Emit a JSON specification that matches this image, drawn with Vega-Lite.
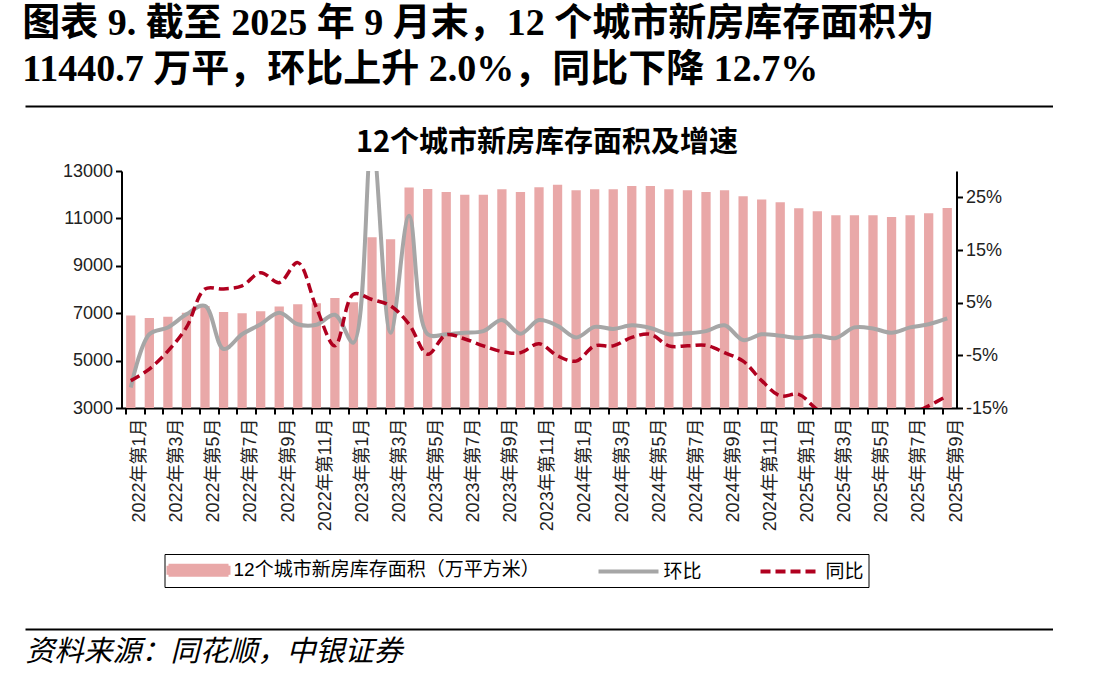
{
  "$schema": "https://vega.github.io/schema/vega-lite/v6.json",
  "padding": {"left": 22, "top": 4, "right": 0, "bottom": 12},
  "background": "white",
  "datasets": {
    "inventory": [
      {"month": "2022年第1月", "inventory": 6900, "mom": -11.1, "yoy": -9.8},
      {"month": "2022年第2月", "inventory": 6800, "mom": -1.0, "yoy": -7.6},
      {"month": "2022年第3月", "inventory": 6850, "mom": 0.3, "yoy": -4.2},
      {"month": "2022年第4月", "inventory": 7020, "mom": 2.8, "yoy": 0.3},
      {"month": "2022年第5月", "inventory": 7300, "mom": 4.4, "yoy": 7.6},
      {"month": "2022年第6月", "inventory": 7050, "mom": -3.8, "yoy": 7.6},
      {"month": "2022年第7月", "inventory": 7000, "mom": -1.0, "yoy": 8.2},
      {"month": "2022年第8月", "inventory": 7080, "mom": 0.9, "yoy": 10.7},
      {"month": "2022年第9月", "inventory": 7280, "mom": 3.1, "yoy": 8.8},
      {"month": "2022年第10月", "inventory": 7380, "mom": 0.9, "yoy": 12.6},
      {"month": "2022年第11月", "inventory": 7420, "mom": 0.8, "yoy": 4.1},
      {"month": "2022年第12月", "inventory": 7640, "mom": 2.7, "yoy": -3.2},
      {"month": "2023年第1月", "inventory": 7460, "mom": -2.6, "yoy": 6.6},
      {"month": "2023年第2月", "inventory": 10200, "mom": 36.0, "yoy": 5.6},
      {"month": "2023年第3月", "inventory": 10120, "mom": -0.7, "yoy": 4.4},
      {"month": "2023年第4月", "inventory": 12300, "mom": 21.5, "yoy": 0.9},
      {"month": "2023年第5月", "inventory": 12240, "mom": -1.0, "yoy": -4.8},
      {"month": "2023年第6月", "inventory": 12110, "mom": -1.0, "yoy": -1.1},
      {"month": "2023年第7月", "inventory": 12000, "mom": -0.7, "yoy": -1.9},
      {"month": "2023年第8月", "inventory": 12000, "mom": -0.4, "yoy": -3.2},
      {"month": "2023年第9月", "inventory": 12230, "mom": 1.7, "yoy": -4.3},
      {"month": "2023年第10月", "inventory": 12110, "mom": -0.9, "yoy": -4.5},
      {"month": "2023年第11月", "inventory": 12310, "mom": 1.7, "yoy": -2.8},
      {"month": "2023年第12月", "inventory": 12420, "mom": 0.6, "yoy": -5.1},
      {"month": "2024年第1月", "inventory": 12185, "mom": -1.6, "yoy": -6.1},
      {"month": "2024年第2月", "inventory": 12230, "mom": 0.4, "yoy": -3.2},
      {"month": "2024年第3月", "inventory": 12230, "mom": 0.0, "yoy": -3.2},
      {"month": "2024年第4月", "inventory": 12370, "mom": 0.7, "yoy": -1.6},
      {"month": "2024年第5月", "inventory": 12370, "mom": 0.2, "yoy": -1.0},
      {"month": "2024年第6月", "inventory": 12230, "mom": -1.0, "yoy": -3.2},
      {"month": "2024年第7月", "inventory": 12185, "mom": -0.8, "yoy": -3.2},
      {"month": "2024年第8月", "inventory": 12110, "mom": -0.4, "yoy": -3.1},
      {"month": "2024年第9月", "inventory": 12185, "mom": 0.7, "yoy": -4.5},
      {"month": "2024年第10月", "inventory": 11930, "mom": -2.1, "yoy": -6.1},
      {"month": "2024年第11月", "inventory": 11800, "mom": -1.0, "yoy": -9.8},
      {"month": "2024年第12月", "inventory": 11680, "mom": -1.3, "yoy": -12.7},
      {"month": "2025年第1月", "inventory": 11425, "mom": -1.7, "yoy": -12.4},
      {"month": "2025年第2月", "inventory": 11300, "mom": -1.3, "yoy": -15.3},
      {"month": "2025年第3月", "inventory": 11130, "mom": -1.7, "yoy": -17.0},
      {"month": "2025年第4月", "inventory": 11130, "mom": 0.3, "yoy": -18.0},
      {"month": "2025年第5月", "inventory": 11130, "mom": 0.1, "yoy": -18.5},
      {"month": "2025年第6月", "inventory": 11060, "mom": -0.7, "yoy": -18.0},
      {"month": "2025年第7月", "inventory": 11130, "mom": 0.3, "yoy": -16.3},
      {"month": "2025年第8月", "inventory": 11215, "mom": 0.9, "yoy": -14.6},
      {"month": "2025年第9月", "inventory": 11440.7, "mom": 2.0, "yoy": -12.7}
    ]
  },
  "spacing": 64,
  "center": true,
  "bounds": "flush",
  "resolve": {"scale": {"color": "independent"}, "legend": {"color": "independent"}},
  "vconcat": [
    {
      "width": 1028,
      "height": 1,
      "data": {"values": [{}]},
      "title": {
        "text": ["图表 9. 截至 2025 年 9 月末，12 个城市新房库存面积为", "11440.7 万平，环比上升 2.0%，同比下降 12.7%"],
        "anchor": "start",
        "font": "Liberation Serif, Noto Sans CJK SC",
        "fontSize": 38,
        "fontWeight": "bold",
        "color": "black",
        "lineHeight": 46,
        "offset": 15
      },
      "mark": {"type": "point", "opacity": 0},
      "encoding": {
        "x": {
          "datum": 0,
          "type": "quantitative",
          "scale": {"domain": [0, 1]},
          "axis": {"orient": "top", "domain": true, "domainColor": "black", "domainWidth": 2, "ticks": false, "labels": false, "grid": false, "title": null}
        }
      }
    },
    {
      "width": 835,
      "height": 237,
      "data": {"name": "inventory"},
      "title": {
        "text": "12个城市新房库存面积及增速",
        "anchor": "middle",
        "font": "Noto Sans CJK SC",
        "fontSize": 29,
        "fontWeight": "bold",
        "color": "black",
        "offset": 4,
        "dx": 8
      },
      "resolve": {"scale": {"y": "independent"}},
      "layer": [
        {
          "mark": {"type": "bar", "clip": true},
          "encoding": {
            "x": {
              "field": "month",
              "type": "ordinal",
              "sort": null,
              "scale": {"paddingInner": 0.5, "paddingOuter": 0.25},
              "axis": {
                "orient": "bottom",
                "title": null,
                "bandPosition": 0,
                "labelOffset": 9.28,
                "labelAngle": 270,
                "labelFontSize": 18,
                "labelColor": "#222222",
                "labelExpr": "test(regexp('第(2|4|6|8|10|12)月$'), datum.value) ? '' : datum.value",
                "labelOverlap": false,
                "labelPadding": 4,
                "tickSize": 6,
                "tickWidth": 2,
                "tickColor": "black",
                "domainColor": "black",
                "domainWidth": 2,
                "grid": false
              }
            },
            "y": {
              "field": "inventory",
              "type": "quantitative",
              "scale": {"domain": [3000, 13000], "nice": false, "zero": false},
              "axis": {
                "orient": "left",
                "title": null,
                "values": [3000, 5000, 7000, 9000, 11000, 13000],
                "format": "d",
                "labelFontSize": 18,
                "labelColor": "#222222",
                "labelPadding": 3,
                "tickSize": 6,
                "tickWidth": 2,
                "tickColor": "black",
                "domainColor": "black",
                "domainWidth": 2,
                "grid": false
              }
            },
            "color": {
              "datum": "12个城市新房库存面积（万平方米）",
              "scale": {
                "domain": ["12个城市新房库存面积（万平方米）", "环比", "同比"],
                "range": ["#E9A8A8", "#A6A6A6", "#B0001F"]
              },
              "legend": {
                "orient": "none",
                "legendX": 43,
                "legendY": 383,
                "direction": "horizontal",
                "title": null,
                "symbolType": {"expr": "datum.value === '环比' || datum.value === '同比' ? 'M-3,0H3' : 'M-3,-0.45H3V0.45H-3Z'"},
                "symbolFillColor": {"expr": "datum.value === '环比' || datum.value === '同比' ? 'transparent' : '#E9A8A8'"},
                "symbolSize": 400,
                "symbolStrokeWidth": 4,
                "symbolDash": {"expr": "datum.value === '同比' ? [10, 5] : [1, 0]"},
                "symbolOffset": 18,
                "labelFontSize": 19,
                "labelColor": "black",
                "labelOffset": 23,
                "labelLimit": 500,
                "columnPadding": 50,
                "padding": 4,
                "strokeColor": "black"
              }
            }
          }
        },
        {
          "layer": [
            {
              "mark": {"type": "line", "strokeWidth": 4, "interpolate": "catmull-rom", "clip": true},
              "encoding": {
                "x": {
                  "field": "month",
                  "type": "ordinal",
                  "sort": null,
                  "axis": {
                    "orient": "bottom",
                    "title": null,
                    "bandPosition": 0,
                    "labelOffset": 9.28,
                    "labelAngle": 270,
                    "labelFontSize": 18,
                    "labelColor": "#222222",
                    "labelExpr": "test(regexp('第(2|4|6|8|10|12)月$'), datum.value) ? '' : datum.value",
                    "labelOverlap": false,
                    "labelPadding": 4,
                    "tickSize": 6,
                    "tickWidth": 2,
                    "tickColor": "black",
                    "domainColor": "black",
                    "domainWidth": 2,
                    "grid": false
                  }
                },
                "y": {
                  "field": "mom",
                  "type": "quantitative",
                  "scale": {"domain": [-15, 30], "nice": false, "zero": false},
                  "axis": {
                    "orient": "right",
                    "title": null,
                    "values": [-15, -5, 5, 15, 25],
                    "labelExpr": "datum.value + '%'",
                    "labelFontSize": 18,
                    "labelColor": "#222222",
                    "labelPadding": 3,
                    "tickSize": 6,
                    "tickWidth": 2,
                    "tickColor": "black",
                    "domainColor": "black",
                    "domainWidth": 2,
                    "grid": false
                  }
                },
                "color": {"datum": "环比"}
              }
            },
            {
              "mark": {"type": "line", "strokeWidth": 3.5, "strokeDash": [10, 5], "interpolate": "catmull-rom", "clip": true},
              "encoding": {
                "x": {
                  "field": "month",
                  "type": "ordinal",
                  "sort": null,
                  "axis": {
                    "orient": "bottom",
                    "title": null,
                    "bandPosition": 0,
                    "labelOffset": 9.28,
                    "labelAngle": 270,
                    "labelFontSize": 18,
                    "labelColor": "#222222",
                    "labelExpr": "test(regexp('第(2|4|6|8|10|12)月$'), datum.value) ? '' : datum.value",
                    "labelOverlap": false,
                    "labelPadding": 4,
                    "tickSize": 6,
                    "tickWidth": 2,
                    "tickColor": "black",
                    "domainColor": "black",
                    "domainWidth": 2,
                    "grid": false
                  }
                },
                "y": {
                  "field": "yoy",
                  "type": "quantitative",
                  "axis": {
                    "orient": "right",
                    "title": null,
                    "values": [-15, -5, 5, 15, 25],
                    "labelExpr": "datum.value + '%'",
                    "labelFontSize": 18,
                    "labelColor": "#222222",
                    "labelPadding": 3,
                    "tickSize": 6,
                    "tickWidth": 2,
                    "tickColor": "black",
                    "domainColor": "black",
                    "domainWidth": 2,
                    "grid": false
                  }
                },
                "color": {"datum": "同比"}
              }
            }
          ]
        }
      ]
    },
    {
      "width": 1028,
      "height": 157,
      "data": {"values": [{}]},
      "mark": {"type": "point", "opacity": 0},
      "encoding": {
        "x": {
          "datum": 0,
          "type": "quantitative",
          "scale": {"domain": [0, 1]},
          "axis": {
            "orient": "bottom",
            "domain": true,
            "domainColor": "black",
            "domainWidth": 2,
            "ticks": false,
            "labels": false,
            "grid": false,
            "title": "资料来源：同花顺，中银证券",
            "titleFont": "Noto Sans CJK SC",
            "titleFontSize": 29,
            "titleFontWeight": "normal",
            "titleFontStyle": "italic",
            "titleColor": "black",
            "titleAnchor": "start",
            "titlePadding": 8
          }
        }
      }
    }
  ],
  "config": {
    "view": {"stroke": null},
    "font": "Liberation Sans, Noto Sans CJK SC",
    "axis": {"grid": false}
  }
}
